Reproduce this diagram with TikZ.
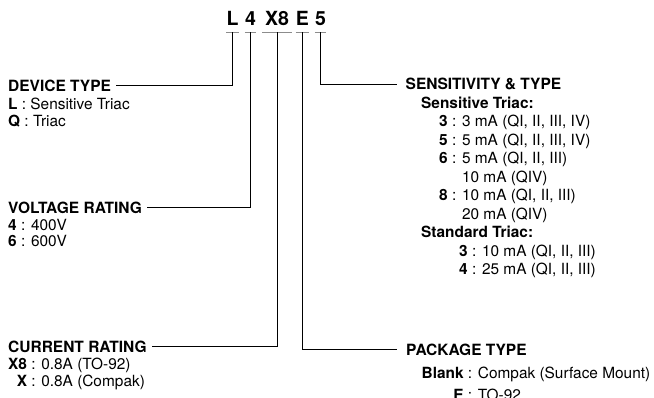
\documentclass[tikz,border=0pt]{standalone}
\usepackage{fontspec}
\setmainfont{TeX Gyre Heros}
\usetikzlibrary{positioning}

\tikzset{
	code/.style={font=\fontsize{19.5}{20}\selectfont\bfseries, inner xsep=0pt, inner ysep=6.5pt, text depth=0pt, anchor=base},
	hdr/.style={font=\fontsize{15.5}{17}\selectfont\bfseries, inner xsep=5pt, inner ysep=0pt, anchor=base west},
	item/.style={font=\fontsize{15.4}{17}\selectfont, inner sep=0pt, anchor=base west},
	lead/.style={line width=0.8pt},
	uline/.style={black!45, line width=1.3pt}
}

\begin{document}
\begin{tikzpicture}[x=1pt,y=-1pt]
		\useasboundingbox (0,0) rectangle (654,397);
		\clip (0,0) rectangle (654,397);
		
		% part number
		\node[code, minimum width=10pt] (tL) at (232.5,25.5) {L};
		\node[code, minimum width=11pt] (t4) at (250.6,25.5) {4};
		\node[code, minimum width=29pt] (tX) at (277,25.5) {X8};
		\node[code, minimum width=10pt] (tE) at (302.3,25.5) {E};
		\node[code, minimum width=11pt] (t5) at (320.5,25.5) {5};
		\foreach \c in {tL,t4,tX,tE,t5}
			\draw[uline] (\c.south west) -- (\c.south east);
		
		% left column
		\node[hdr] (dev) at (3,91) {DEVICE TYPE};
		\node[item] (devl) at (8,109.5) {\textbf{L} : Sensitive Triac};
		\node[item] (devq) at (8,126.5) {\textbf{Q} : Triac};
		
		\node[hdr] (volt) at (3,213.5) {VOLTAGE RATING};
		\node[item] (volt4) at (8,230) {\textbf{4} : 400V};
		\node[item] (volt6) at (8,246.7) {\textbf{6} : 600V};
		
		\node[hdr] (curr) at (3,352.5) {CURRENT RATING};
		\node[item] (currx8) at (8,369) {\textbf{X8} : 0.8A (TO-92)};
		\node[item] (currx) at (8,386) {\hphantom{\textbf{X8}}\llap{\textbf{X}} : 0.8A (Compak)};
		
		% right column
		\node[hdr, inner xsep=9pt] (sens) at (396.5,89.5) {SENSITIVITY \& TYPE};
		\node[item, font=\fontsize{15.4}{17}\selectfont\bfseries] (senss) at (421,108) {Sensitive Triac:};
		\node[item] (sens3) at (439,126.5) {\textbf{3} : 3 mA (QI, II, III, IV)};
		\node[item] (sens5) at (439,145) {\textbf{5} : 5 mA (QI, II, III, IV)};
		\node[item] (sens6) at (439,163.5) {\textbf{6} : 5 mA (QI, II, III)};
		\node[item] (sens6b) at (439,182) {\hphantom{\textbf{6} : }10 mA (QIV)};
		\node[item] (sens8) at (439,200.5) {\textbf{8} : 10 mA (QI, II, III)};
		\node[item] (sens8b) at (439,219) {\hphantom{\textbf{8} : }20 mA (QIV)};
		\node[item, font=\fontsize{15.4}{17}\selectfont\bfseries] (senst) at (421,237.5) {Standard Triac:};
		\node[item] (std3) at (459,256) {\textbf{3} : 10 mA (QI, II, III)};
		\node[item] (std4) at (459,274.5) {\textbf{4} : 25 mA (QI, II, III)};
		
		\node[hdr, inner xsep=9pt] (pack) at (397,355) {PACKAGE TYPE};
		\node[item] (packb) at (421.5,378) {\textbf{Blank} : Compak (Surface Mount)};
		\node[item] (packe) at (421.5,400) {\hphantom{\textbf{Blank}}\llap{\textbf{E}} : TO-92};
		
		% leads from the part number
		\draw[lead] (tL.south) |- (dev.east);
		\draw[lead] (t4.south) |- (volt.east);
		\draw[lead] (tX.south) |- (curr.east);
		\draw[lead] (tE.south) |- (pack.west);
		\draw[lead] (t5.south) |- (sens.west);
	\end{tikzpicture}
\end{document}
